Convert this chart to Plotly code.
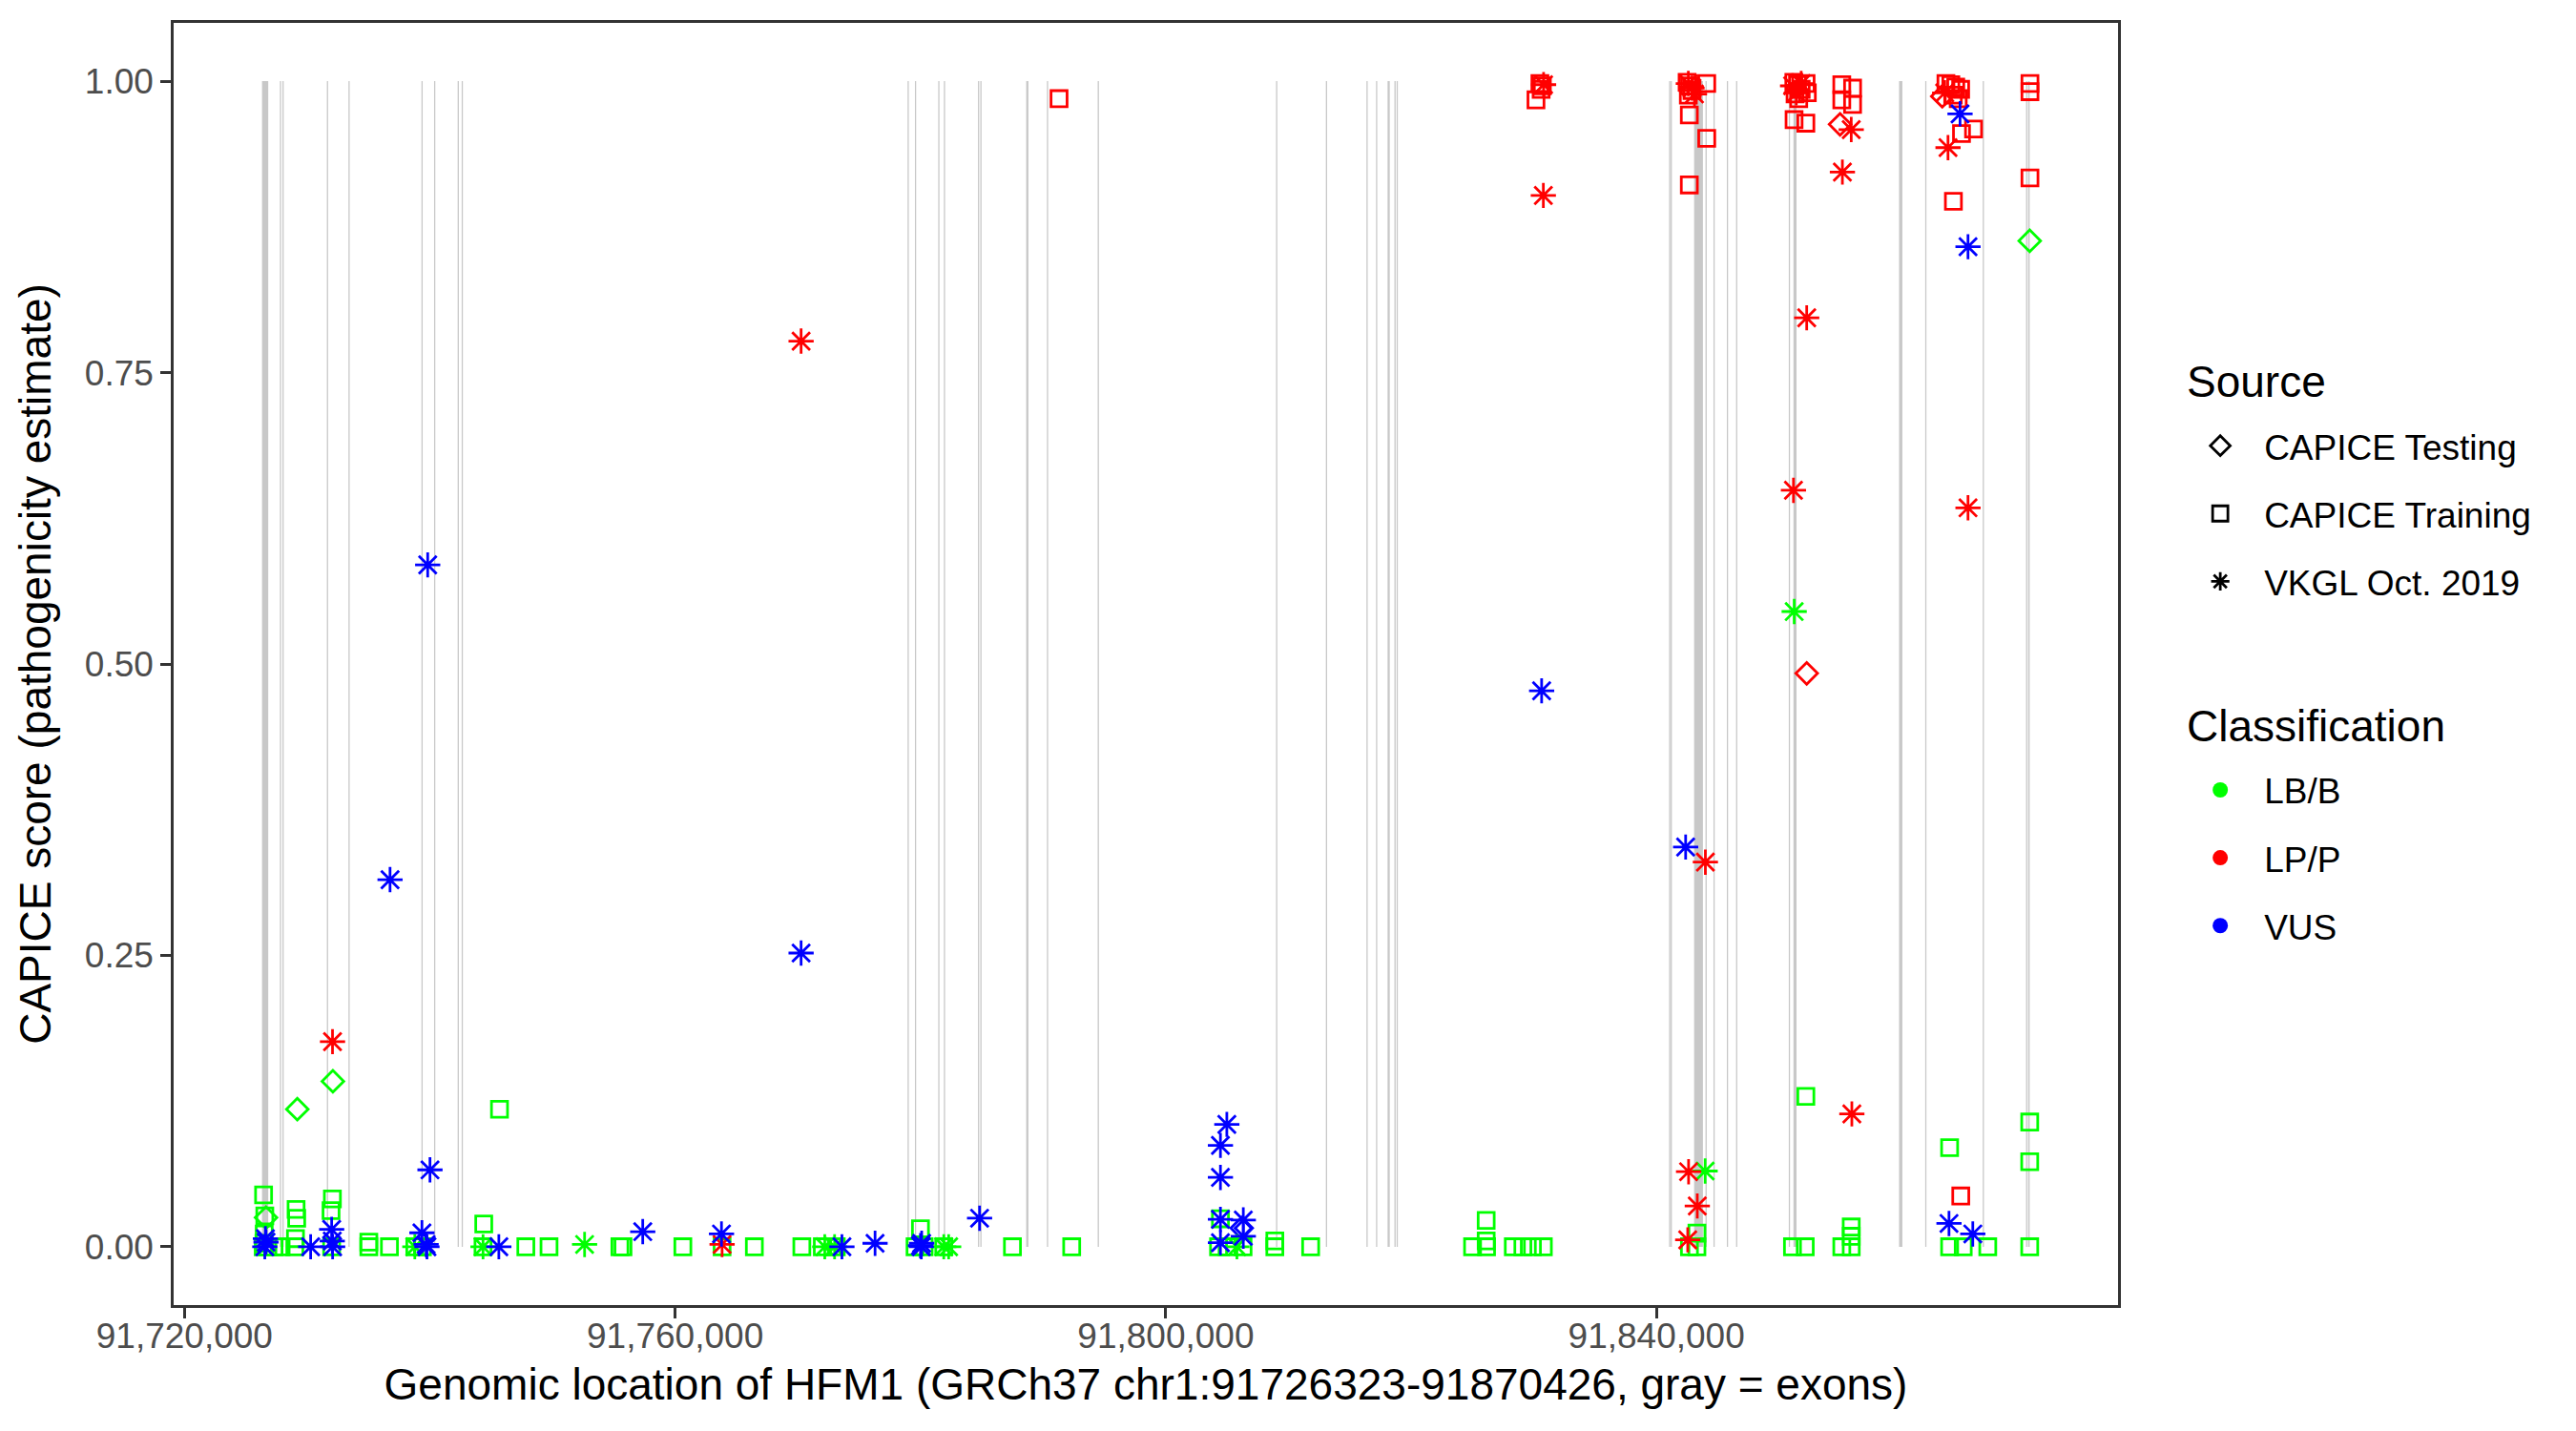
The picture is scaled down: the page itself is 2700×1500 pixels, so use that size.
import plotly.graph_objects as go

# ---------------- data ----------------
exon_start = [91726323, 91727780, 91727990, 91731610, 91733370, 91739320, 91740350, 91742270,
              91742600, 91778950, 91779550, 91781450, 91781910, 91784690, 91784880, 91788620,
              91790310, 91794450, 91808990, 91813050, 91816360, 91817140, 91818080, 91818640,
              91818820, 91841030, 91841160, 91843070, 91844000, 91844650, 91845740, 91846490,
              91850790, 91851170, 91859780, 91861910, 91866600, 91870130, 91870300]
exon_end = [91726830, 91727880, 91728090, 91731710, 91733470, 91739420, 91740450, 91742370,
            91742700, 91779050, 91779650, 91781550, 91782010, 91784790, 91784980, 91788800,
            91790410, 91794550, 91809090, 91813150, 91816460, 91817240, 91818260, 91818740,
            91818920, 91841130, 91841260, 91843790, 91844100, 91844750, 91845840, 91846590,
            91850890, 91851420, 91860050, 91862010, 91866700, 91870230, 91870426]

# CAPICE Testing (diamonds)
testing_lb_pos = [91726650, 91729200, 91732100, 91870430]
testing_lb_score = [0.025, 0.118, 0.142, 0.863]
testing_lp_pos = [91852250, 91854970, 91863300]
testing_lp_score = [0.492, 0.963, 0.987]
testing_vus_pos = [91806190]
testing_vus_score = [0.016]

# CAPICE Training (squares)
training_lb_pos = [91726450, 91726550, 91726500, 91726480, 91726420, 91726800, 91727300, 91727880,
                   91729100, 91729150, 91729050, 91729000, 91732060, 91731950, 91732000, 91735030,
                   91735030, 91736710, 91738780, 91739400, 91744400, 91744340, 91745683, 91747830,
                   91749720, 91755500, 91755750, 91760630, 91763830, 91766460, 91770330, 91772000,
                   91773140, 91779560, 91780000, 91780300, 91781900, 91787500, 91792330, 91804456,
                   91804300, 91805000, 91806300, 91808890, 91808890, 91811810, 91825010, 91826120,
                   91826120, 91826150, 91828330, 91829110, 91829890, 91830780, 91842690, 91843300,
                   91843300, 91851090, 91852130, 91852180, 91855110, 91855880, 91855880, 91855880,
                   91863900, 91863900, 91865010, 91867010, 91870430, 91870430, 91870430]
training_lb_score = [0.0445, 0.0265, 0.011, 0.003, 0.0, 0.0, 0.0, 0.0,
                     0.032, 0.0245, 0.007, 0.0, 0.041, 0.031, 0.0, 0.004,
                     0.0, 0.0, 0.0, 0.0, 0.0196, 0.0, 0.118, 0.0,
                     0.0, 0.0, 0.0, 0.0, 0.0, 0.0, 0.0, 0.0,
                     0.0, 0.0, 0.0155, 0.0, 0.0, 0.0, 0.0, 0.024,
                     0.0, 0.0, 0.0, 0.005, 0.0, 0.0, 0.0, 0.0226,
                     0.005, 0.0, 0.0, 0.0, 0.0, 0.0, 0.0, 0.0117,
                     0.0, 0.0, 0.0, 0.129, 0.0, 0.017, 0.009, 0.0,
                     0.085, 0.0, 0.0, 0.0, 0.107, 0.073, 0.0]
training_lp_pos = [91791300, 91830500, 91830700, 91830600, 91830180, 91842500, 91842700, 91842900,
                   91842600, 91842680, 91842680, 91844100, 91844100, 91851200, 91851500, 91851800,
                   91851300, 91851600, 91851220, 91852180, 91852200, 91852300, 91855110, 91855110,
                   91855990, 91855990, 91863600, 91864000, 91864400, 91864800, 91864200, 91864600,
                   91865850, 91864870, 91864210, 91864810, 91870450, 91870450, 91870450]
training_lp_score = [0.985, 0.998, 0.996, 0.993, 0.984, 0.999, 0.996, 0.992,
                     0.988, 0.971, 0.911, 0.998, 0.951, 0.999, 0.997, 0.993,
                     0.989, 0.985, 0.967, 0.964, 0.998, 0.990, 0.997, 0.984,
                     0.994, 0.980, 0.998, 0.997, 0.995, 0.993, 0.988, 0.985,
                     0.959, 0.955, 0.897, 0.0436, 0.998, 0.991, 0.917]

# VKGL Oct. 2019 (asterisks)
vkgl_lb_pos = [91738780, 91744340, 91752620, 91772200, 91773000, 91781900, 91782300, 91805800,
               91843970, 91851230]
vkgl_lb_score = [0.0, 0.0, 0.002, 0.0, 0.0, 0.0, 0.0, 0.0, 0.065, 0.545]
vkgl_lp_pos = [91732070, 91763830, 91770270, 91830780, 91830800, 91842600, 91842900, 91843100,
               91842620, 91843330, 91842550, 91843990, 91851170, 91852250, 91851100, 91851400,
               91851800, 91855880, 91855160, 91855930, 91863770, 91865400, 91863500]
vkgl_lp_score = [0.176, 0.002, 0.777, 0.902, 0.997, 0.998, 0.994, 0.989,
                 0.0644, 0.035, 0.006, 0.330, 0.649, 0.797, 0.996, 0.990,
                 0.998, 0.9585, 0.922, 0.114, 0.943, 0.634, 0.990]
vkgl_vus_pos = [91726550, 91726650, 91726600, 91730287, 91732000, 91732050, 91732080, 91736760,
                91739830, 91740016, 91739360, 91739770, 91739700, 91745630, 91757360, 91763780,
                91770270, 91773600, 91776300, 91780070, 91780100, 91780000, 91784820, 91804977,
                91804456, 91804456, 91804456, 91804456, 91806320, 91806320, 91830640, 91842380,
                91864750, 91865400, 91863850, 91865790]
vkgl_vus_score = [0.0, 0.004, 0.007, 0.0, 0.015, 0.005, 0.0, 0.315,
                  0.585, 0.066, 0.012, 0.0, 0.002, 0.0, 0.013, 0.011,
                  0.252, 0.0, 0.003, 0.0, 0.003, 0.001, 0.0245, 0.105,
                  0.087, 0.0595, 0.0235, 0.0035, 0.023, 0.009, 0.477, 0.343,
                  0.972, 0.858, 0.02, 0.011]

source_names = ["CAPICE Testing", "CAPICE Training", "VKGL Oct. 2019"]
class_names = ["LB/B", "LP/P", "VUS"]
y_ticks = [0.0, 0.25, 0.5, 0.75, 1.0]
x_ticks = [91720000, 91760000, 91800000, 91840000]

# ---------------- style ----------------
FONT = "Liberation Sans, Arial, Helvetica, sans-serif"
class_colors = {"LB/B": "#00FF00", "LP/P": "#FF0000", "VUS": "#0000FF"}
source_symbol = {"CAPICE Testing": "diamond-open", "CAPICE Training": "square-open",
                 "VKGL Oct. 2019": "asterisk-open"}
source_size = {"CAPICE Testing": 17.5, "CAPICE Training": 16.8, "VKGL Oct. 2019": 22}
LW = 2.8

fig = go.Figure()

# exons as gray rectangles
for s, e in zip(exon_start, exon_end):
    fig.add_shape(type="rect", xref="x", yref="y", x0=s, x1=e, y0=0, y1=1,
                  fillcolor="#C8C8C8", line=dict(width=0), layer="below")

series = [
    ("CAPICE Testing", "LB/B", testing_lb_pos, testing_lb_score),
    ("CAPICE Testing", "LP/P", testing_lp_pos, testing_lp_score),
    ("CAPICE Testing", "VUS", testing_vus_pos, testing_vus_score),
    ("CAPICE Training", "LB/B", training_lb_pos, training_lb_score),
    ("CAPICE Training", "LP/P", training_lp_pos, training_lp_score),
    ("VKGL Oct. 2019", "LB/B", vkgl_lb_pos, vkgl_lb_score),
    ("VKGL Oct. 2019", "LP/P", vkgl_lp_pos, vkgl_lp_score),
    ("VKGL Oct. 2019", "VUS", vkgl_vus_pos, vkgl_vus_score),
]
for src, cls, xs, ys in series:
    col = class_colors[cls]
    fig.add_trace(go.Scatter(
        x=xs, y=ys, mode="markers", showlegend=False, hoverinfo="x+y",
        marker=dict(symbol=source_symbol[src], size=source_size[src], color=col,
                    line=dict(color=col, width=LW))))

# legend entries: Source (shape) and Classification (colour)
for i, src in enumerate(source_names):
    fig.add_trace(go.Scatter(
        x=[None], y=[None], mode="markers", name=src, legend="legend",
        legendgroup="s%d" % i,
        marker=dict(symbol=source_symbol[src], size=16, color="black",
                    line=dict(color="black", width=2.8))))
for i, cls in enumerate(class_names):
    fig.add_trace(go.Scatter(
        x=[None], y=[None], mode="markers", name=cls, legend="legend2",
        legendgroup="c%d" % i,
        marker=dict(symbol="circle", size=16, color=class_colors[cls])))

axis_common = dict(showline=True, mirror=True, linecolor="#333333", linewidth=2.5,
                   ticks="outside", ticklen=11, tickwidth=2.5, tickcolor="#333333",
                   showgrid=False, zeroline=False,
                   tickfont=dict(family=FONT, size=37, color="#4D4D4D"))

legend_common = dict(xanchor="left", yanchor="top", traceorder="grouped",
                     tracegroupgap=20, itemwidth=82, bgcolor="rgba(0,0,0,0)",
                     font=dict(family=FONT, size=37, color="black"))

fig.update_layout(
    width=2700, height=1500,
    paper_bgcolor="white", plot_bgcolor="white",
    margin=dict(l=182, r=480, t=24, b=132),
    font=dict(family=FONT, color="black"),
    xaxis=dict(range=[91719118, 91877631], tickvals=x_ticks, tickformat=",d",
               ticklabelstandoff=-13,
               title=dict(text="Genomic location of HFM1 (GRCh37 chr1:91726323-91870426, gray = exons)",
                          font=dict(family=FONT, size=46, color="black"), standoff=15),
               **axis_common),
    yaxis=dict(range=[-0.05, 1.05], tickvals=y_ticks, tickformat=".2f",
               title=dict(text="CAPICE score (pathogenicity estimate)",
                          font=dict(family=FONT, size=46, color="black"), standoff=21),
               **axis_common),
    legend=dict(x=1.030, y=0.693, **legend_common),
    legend2=dict(x=1.030, y=0.4245, **legend_common),
    annotations=[
        dict(text="Source", xref="paper", yref="paper", x=1.0345, y=0.720,
             xanchor="left", yanchor="middle", showarrow=False,
             font=dict(family=FONT, size=46, color="black")),
        dict(text="Classification", xref="paper", yref="paper", x=1.0345, y=0.452,
             xanchor="left", yanchor="middle", showarrow=False,
             font=dict(family=FONT, size=46, color="black")),
    ],
)

fig.write_html("out.html", config={"displayModeBar": False},
               post_script="document.body.style.margin='0px';")
